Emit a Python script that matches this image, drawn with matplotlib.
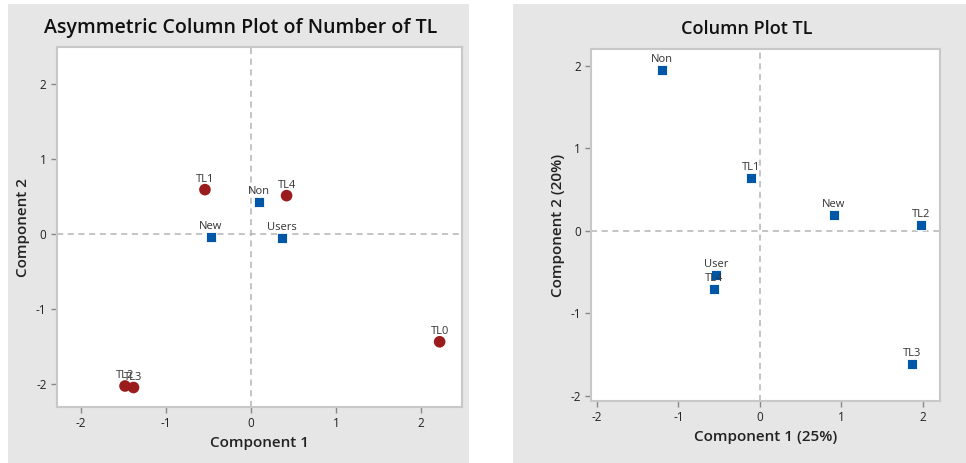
import matplotlib.pyplot as plt
from matplotlib.patches import Rectangle

plt.rcParams['font.family'] = ['Open Sans', 'DejaVu Sans']
plt.rcParams['axes.unicode_minus'] = False

# left panel: asymmetric column plot
row_names = ["Non", "New", "Users"]
row_x = [0.09, -0.47, 0.37]
row_y = [0.43, -0.04, -0.06]
col_names = ["TL1", "TL4", "TL0", "TL2", "TL3"]
col_x = [-0.54, 0.42, 2.22, -1.48, -1.38]
col_y = [0.59, 0.51, -1.44, -2.03, -2.05]

# right panel: column plot
pts_names = ["Non", "TL1", "New", "TL2", "User", "TL4", "TL3"]
pts_x = [-1.20, -0.11, 0.91, 1.98, -0.54, -0.56, 1.87]
pts_y = [1.95, 0.64, 0.19, 0.07, -0.53, -0.70, -1.61]

red = "#9b1c1c"
blue = "#0057a8"
grey_bg = "#e6e6e6"
spine_c = "#c8c8c8"

fig = plt.figure(figsize=(9.66, 4.63), dpi=100)
fig.patch.set_facecolor("white")
fig.patches.append(Rectangle((0.008, 0.0), 0.477, 0.991, transform=fig.transFigure,
                             facecolor=grey_bg, edgecolor="none", zorder=-10))
fig.patches.append(Rectangle((0.531, 0.0), 0.469, 0.991, transform=fig.transFigure,
                             facecolor=grey_bg, edgecolor="none", zorder=-10))


def style(ax):
    for s in ax.spines.values():
        s.set_color(spine_c)
        s.set_linewidth(1.5)
    ax.tick_params(colors="#888888", labelcolor="#222222", labelsize=8.5, length=4, width=1)
    ax.axhline(0, color="#b4b4b4", ls=(0, (4, 3)), lw=1.1, zorder=0)
    ax.axvline(0, color="#b4b4b4", ls=(0, (4, 3)), lw=1.1, zorder=0)


ax1 = fig.add_axes([0.059, 0.121, 0.419, 0.777])
style(ax1)
ax1.scatter(col_x, col_y, s=70, marker="o", color=red, edgecolors="none", zorder=3)
ax1.scatter(row_x, row_y, s=55, marker="s", color=blue, edgecolors="white", linewidths=0.6, zorder=3)
for n, x, y in zip(col_names + row_names, col_x + row_x, col_y + row_y):
    ax1.annotate(n, (x, y), xytext=(0, 3.5), textcoords="offset points",
                 ha="center", va="bottom", fontsize=8, color="#333333")
ax1.set_xlim(-2.28, 2.48)
ax1.set_ylim(-2.31, 2.49)
ax1.set_xticks([-2, -1, 0, 1, 2])
ax1.set_yticks([-2, -1, 0, 1, 2])
ax1.set_xlabel("Component 1", fontsize=11, fontweight="semibold", color="#222222")
ax1.set_ylabel("Component 2", fontsize=11, fontweight="semibold", color="#222222")
fig.text(0.249, 0.94, "Asymmetric Column Plot of Number of TL", ha="center", va="center",
         fontsize=14, fontweight="semibold", color="#111111")

ax2 = fig.add_axes([0.612, 0.134, 0.361, 0.760])
style(ax2)
ax2.scatter(pts_x, pts_y, s=55, marker="s", color=blue, edgecolors="white", linewidths=0.6, zorder=3)
for n, x, y in zip(pts_names, pts_x, pts_y):
    ax2.annotate(n, (x, y), xytext=(0, 3.5), textcoords="offset points",
                 ha="center", va="bottom", fontsize=8, color="#333333")
ax2.set_xlim(-2.07, 2.21)
ax2.set_ylim(-2.06, 2.2)
ax2.set_xticks([-2, -1, 0, 1, 2])
ax2.set_yticks([-2, -1, 0, 1, 2])
ax2.set_xlabel("Component 1 (25%)", fontsize=11, fontweight="semibold", color="#222222")
ax2.set_ylabel("Component 2 (20%)", fontsize=11, fontweight="semibold", color="#222222")
fig.text(0.773, 0.937, "Column Plot TL", ha="center", va="center",
         fontsize=13, fontweight="semibold", color="#111111")

fig.savefig("out.png", dpi=100)
